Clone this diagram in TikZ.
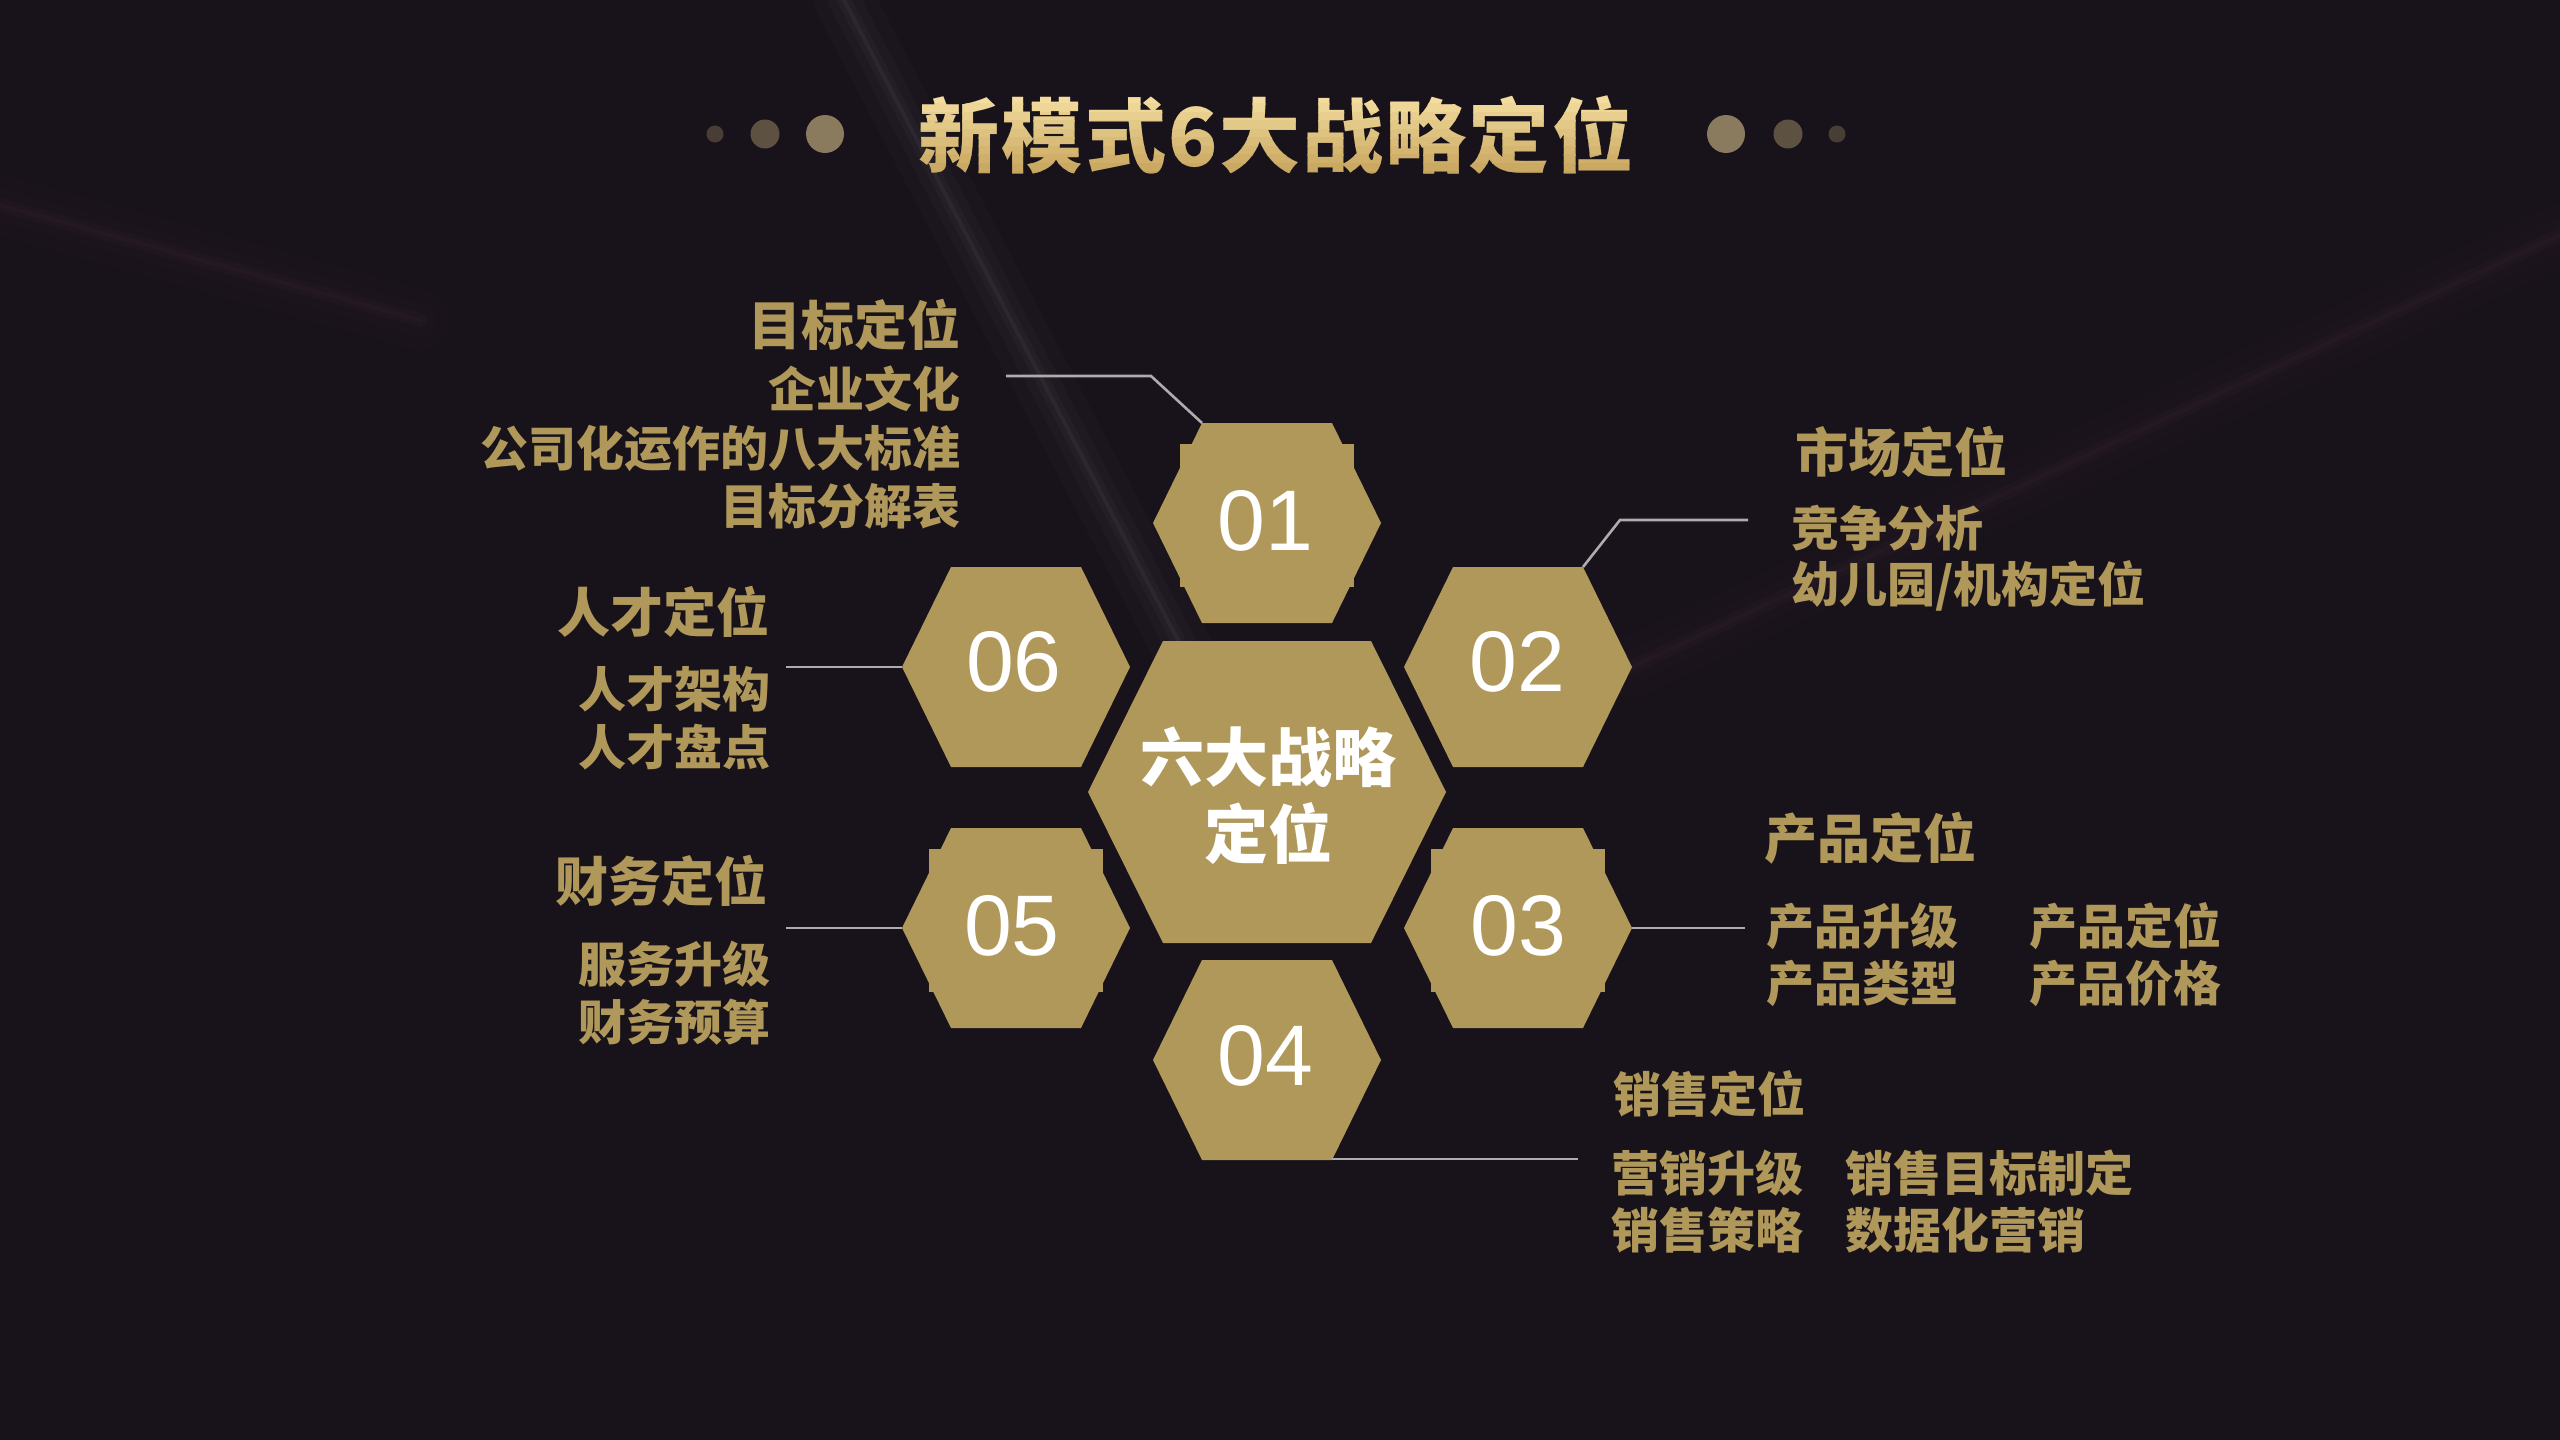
\documentclass[tikz,border=0pt]{standalone}
\usepackage{fontspec}
\setmainfont{Liberation Sans}
\newfontfamily\cjk{Noto Sans CJK SC}
\newfontfamily\cjktitle{Noto Sans CJK SC}[LetterSpace=2.6]
\usetikzlibrary{calc}
\definecolor{bgc}{HTML}{18121A}
\definecolor{hexgold}{HTML}{AF985A}
\definecolor{linegray}{HTML}{ADADAD}
\definecolor{dotA}{HTML}{8A7A5E}
\definecolor{dotB}{HTML}{5D5142}
\definecolor{dotC}{HTML}{483E35}
\definecolor{titletop}{HTML}{F3DC9E}
\definecolor{titlebot}{HTML}{C4A25A}
\definecolor{streakpink}{HTML}{A07585}
\tikzset{
  headtext/.style={text=hexgold, font=\cjk\bfseries\fontsize{26.5}{30}\selectfont, inner sep=0pt},
  subtext/.style={text=hexgold, font=\cjk\bfseries\fontsize{24}{28}\selectfont, inner sep=0pt},
  titletext/.style={font=\cjktitle\bfseries\fontsize{40.5}{44}\selectfont, inner sep=0pt},
  numtext/.style={text=white, font=\fontsize{43}{48}\selectfont, inner sep=0pt},
  centertext/.style={text=white, font=\cjk\bfseries\fontsize{32}{36}\selectfont, inner sep=0pt},
  conn/.style={draw=linegray, line width=1.3pt},
  smallhex/.pic={
    \fill[hexgold] (-114,0) -- (-65,-100) -- (65,-100) -- (114,0) -- (65,100) -- (-65,100) -- cycle;
    \coordinate (-l) at (-114,0);
    \coordinate (-r) at (114,0);
    \coordinate (-tl) at (-65,-100);
    \coordinate (-tr) at (65,-100);
    \coordinate (-br) at (65,100);
  },
  hexback/.pic={\fill[hexgold] (-87,-79) rectangle (87,64);},
}
\begin{document}
\begin{tikzpicture}[x=0.5pt,y=-0.5pt]
% background
\fill[bgc] (0,0) rectangle (2560,1440);
\useasboundingbox (0,0) rectangle (2560,1440);
% soft streaks
\foreach \w/\o in {30/0.015, 16/0.02, 7/0.025, 2/0.04}{
  \draw[white, opacity=\o, line width=\w pt, line cap=round] (844,0) -- (1230,740);
  \draw[streakpink, opacity=\o, line width=\w pt, line cap=round] (2560,235) -- (1632,667);
  \draw[streakpink, opacity=\o, line width=\w pt, line cap=round] (0,205) -- (420,320);
}
% title (stepped vertical gold gradient)
\foreach \i in {0,...,9}{
  \pgfmathsetmacro{\yA}{95+\i*8.5}
  \pgfmathsetmacro{\yB}{95+(\i+1)*8.5}
  \pgfmathsetmacro{\mix}{100-\i*11}
  \begin{scope}
    \clip (850,\yA) rectangle (1700,\yB+0.5);
    \node[titletext, text=titletop!\mix!titlebot] (title\i) at (1276,135) {新模式6大战略定位};
  \end{scope}
}
% dots
\fill[dotC] (715,134) circle (8.5);
\fill[dotB] (765,134) circle (14.5);
\fill[dotA] (825,134) circle (19);
\fill[dotA] (1726,134) circle (19);
\fill[dotB] (1788,134) circle (14.5);
\fill[dotC] (1837,134) circle (8.5);
% backing rectangles
\pic at (1267,523) {hexback};
\pic at (1518,928) {hexback};
\pic at (1016,928) {hexback};
% hexagons
\pic (h1) at (1267,523) {smallhex};
\pic (h2) at (1518,667) {smallhex};
\pic (h3) at (1518,928) {smallhex};
\pic (h4) at (1267,1060) {smallhex};
\pic (h5) at (1016,928) {smallhex};
\pic (h6) at (1016,667) {smallhex};
\fill[hexgold] (1088,792) -- (1163,641) -- (1371,641) -- (1446,792) -- (1371,943) -- (1163,943) -- cycle;
% numbers
\node[numtext] (n1) at (1265,521) {01};
\node[numtext] (n2) at (1517,662) {02};
\node[numtext] (n3) at (1518,926) {03};
\node[numtext] (n4) at (1265,1056) {04};
\node[numtext] (n5) at (1012,926) {05};
\node[numtext] (n6) at (1014,662) {06};
\node[centertext] (c1) at (1268,757) {六大战略};
\node[centertext] (c2) at (1268,834) {定位};
% connectors
\coordinate (k1a) at (1151,376);
\coordinate (k1b) at (1006,376);
\draw[conn] (h1-tl) -- (k1a) -- (k1b);
\coordinate (k2a) at (1620,520);
\coordinate (k2b) at (1748,520);
\draw[conn] (h2-tr) -- (k2a) -- (k2b);
\coordinate (k3) at (1745,928);
\draw[conn] (h3-r) -- (k3);
\coordinate (k4) at (1578,1159);
\draw[conn] ($(h4-br)+(0,-1)$) -- (k4);
\coordinate (k5) at (786,928);
\draw[conn] (h5-l) -- (k5);
\coordinate (k6) at (786,667);
\draw[conn] (h6-l) -- (k6);
% group 01
\node[headtext, anchor=east] (t1h) at (961,325) {目标定位};
\node[subtext, anchor=east] (t1a) at (961,389) {企业文化};
\node[subtext, anchor=east] (t1b) at (961,448) {公司化运作的八大标准};
\node[subtext, anchor=east] (t1c) at (961,506) {目标分解表};
% group 06
\node[headtext, anchor=east] (t6h) at (770,612) {人才定位};
\node[subtext, anchor=east] (t6a) at (771,689) {人才架构};
\node[subtext, anchor=east] (t6b) at (771,747) {人才盘点};
% group 05
\node[headtext, anchor=east] (t5h) at (768,881) {财务定位};
\node[subtext, anchor=east] (t5a) at (771,964) {服务升级};
\node[subtext, anchor=east] (t5b) at (771,1022) {财务预算};
% group 02
\node[headtext, anchor=west] (t2h) at (1795,452) {市场定位};
\node[subtext, anchor=west] (t2a) at (1791,528) {竞争分析};
\node[subtext, anchor=west] (t2b) at (1791,586) {幼儿园/机构定位};
% group 03
\node[headtext, anchor=west] (t3h) at (1764,838) {产品定位};
\node[subtext, anchor=west] (t3a) at (1766,926) {产品升级};
\node[subtext, anchor=west] (t3b) at (2029,926) {产品定位};
\node[subtext, anchor=west] (t3c) at (1766,983) {产品类型};
\node[subtext, anchor=west] (t3d) at (2029,983) {产品价格};
% group 04
\node[subtext, anchor=west] (t4h) at (1613,1094) {销售定位};
\node[subtext, anchor=west] (t4a) at (1611,1173) {营销升级};
\node[subtext, anchor=west] (t4b) at (1845,1173) {销售目标制定};
\node[subtext, anchor=west] (t4c) at (1611,1230) {销售策略};
\node[subtext, anchor=west] (t4d) at (1845,1230) {数据化营销};
\end{tikzpicture}
\end{document}
